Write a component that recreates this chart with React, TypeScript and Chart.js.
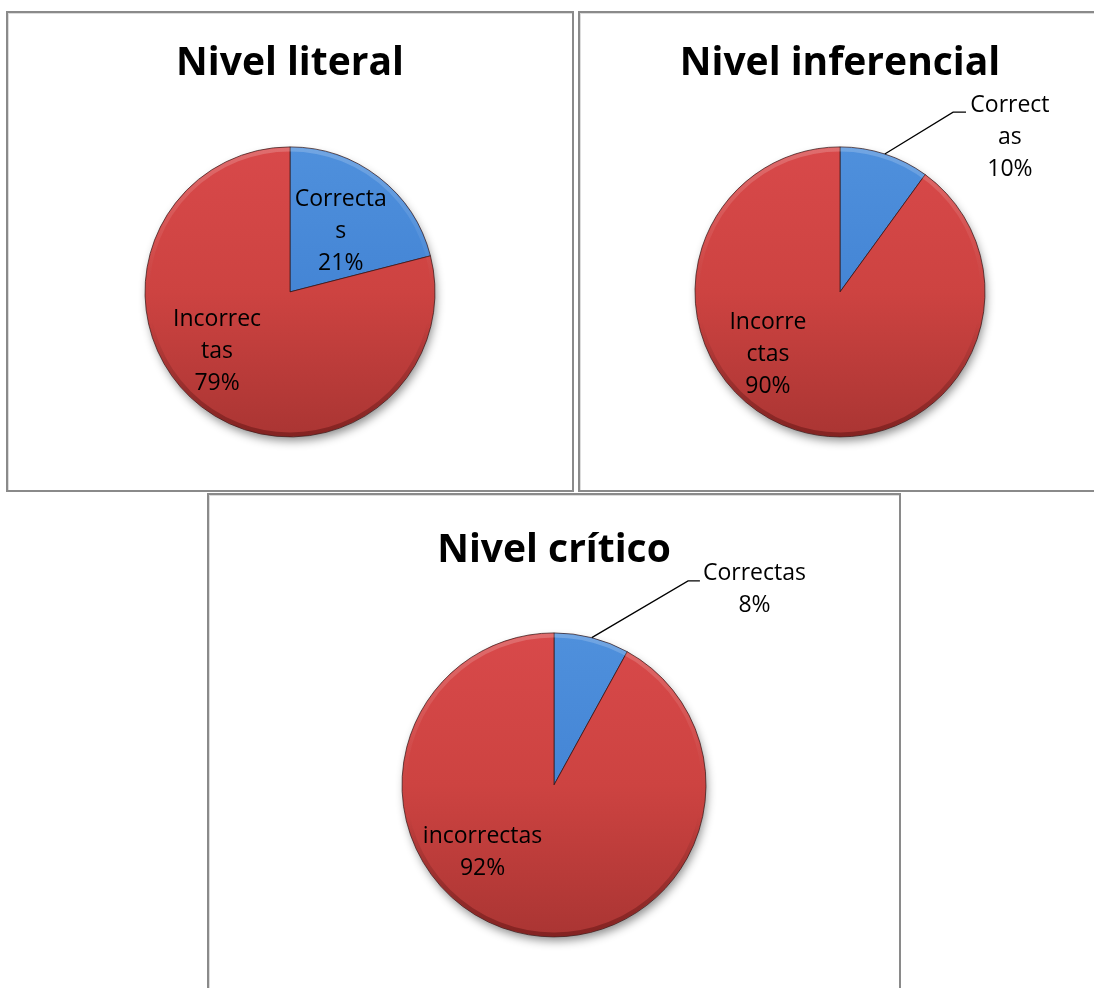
import React, { useEffect, useRef } from "react";
import { Chart, registerables } from "chart.js";

Chart.register(...registerables);

// ---- data ----
const categories = ["Correctas", "Incorrectas"];
const literalValues = [21, 79];
const inferencialValues = [10, 90];
const criticoValues = [8, 92];
const literalNames = [["Correcta", "s"], ["Incorrec", "tas"]];
const inferencialNames = [["Correct", "as"], ["Incorre", "ctas"]];
const criticoNames = [["Correctas"], ["incorrectas"]];
const titles = ["Nivel literal", "Nivel inferencial", "Nivel crítico"];

// ---- styles ----
const sliceGradients = [
  ["#4f90dc", "#4485d5", "#3572c2"],
  ["#d8494a", "#cd4341", "#aa3533"],
];

type LabelPos = { fx: number; fy: number; leader?: number[][] };
type PanelCfg = {
  title: string;
  values: number[];
  names: string[][];
  box: { left: number; top: number; width: number; height: number };
  radius: number;
  titlePad: { top: number; bottom: number };
  layoutBottom: number;
  labels: LabelPos[];
};

const panels: PanelCfg[] = [
  {
    title: titles[0],
    values: literalValues,
    names: literalNames,
    box: { left: 6, top: 11, width: 568, height: 481 },
    radius: 145,
    titlePad: { top: 27, bottom: 59 },
    layoutBottom: 53,
    labels: [
      { fx: 0.35, fy: -0.42 },
      { fx: -0.503, fy: 0.414 },
    ],
  },
  {
    title: titles[1],
    values: inferencialValues,
    names: inferencialNames,
    box: { left: 578, top: 11, width: 524, height: 481 },
    radius: 145,
    titlePad: { top: 27, bottom: 59 },
    layoutBottom: 53,
    labels: [
      { fx: 1.172, fy: -1.062, leader: [[0.78, -1.24], [0.869, -1.24]] },
      { fx: -0.497, fy: 0.434 },
    ],
  },
  {
    title: titles[2],
    values: criticoValues,
    names: criticoNames,
    box: { left: 207, top: 493, width: 694, height: 510 },
    radius: 152,
    titlePad: { top: 32, bottom: 58 },
    layoutBottom: 64,
    labels: [
      { fx: 1.319, fy: -1.283, leader: [[0.882, -1.342], [0.96, -1.342]] },
      { fx: -0.47, fy: 0.447 },
    ],
  },
];

const pieDecor = {
  id: "pieDecor",
  beforeDatasetsDraw(chart: any) {
    const arc = chart.getDatasetMeta(0).data[0];
    if (!arc) return;
    const { x, y, outerRadius } = arc.getProps(["x", "y", "outerRadius"], true);
    const ctx = chart.ctx;
    ctx.save();
    ctx.shadowColor = "rgba(0,0,0,0.45)";
    ctx.shadowBlur = 10;
    ctx.shadowOffsetX = 2;
    ctx.shadowOffsetY = 5;
    ctx.fillStyle = "#b03a38";
    ctx.beginPath();
    ctx.arc(x, y, outerRadius - 1, 0, Math.PI * 2);
    ctx.fill();
    ctx.restore();
  },
  afterDatasetsDraw(chart: any, _args: any, opts: any) {
    const meta = chart.getDatasetMeta(0);
    const ctx = chart.ctx;
    const first = meta.data[0];
    if (!first) return;
    const { x, y, outerRadius: r } = first.getProps(["x", "y", "outerRadius"], true);
    // rim bevel
    ctx.save();
    const g = ctx.createLinearGradient(0, y - r, 0, y + r);
    g.addColorStop(0, "rgba(255,255,255,0.2)");
    g.addColorStop(0.35, "rgba(255,255,255,0.05)");
    g.addColorStop(0.6, "rgba(0,0,0,0.0)");
    g.addColorStop(1, "rgba(60,0,0,0.35)");
    ctx.strokeStyle = g;
    ctx.lineWidth = 4;
    ctx.beginPath();
    ctx.arc(x, y, r - 2.5, 0, Math.PI * 2);
    ctx.stroke();
    ctx.restore();

    const labels: LabelPos[] = opts.labels || [];
    const names: string[][] = opts.names || [];
    const values: number[] = chart.data.datasets[0].data;
    const total = values.reduce((a: number, b: number) => a + b, 0);
    const lh = 32;
    ctx.save();
    ctx.font = '23px "Open Sans"';
    ctx.fillStyle = "#000";
    ctx.textAlign = "center";
    ctx.textBaseline = "middle";
    meta.data.forEach((el: any, i: number) => {
      const lp = labels[i];
      if (!lp) return;
      const p = el.getProps(["x", "y", "startAngle", "endAngle", "outerRadius"], true);
      const cx = p.x + lp.fx * p.outerRadius;
      const cy = p.y + lp.fy * p.outerRadius;
      const pct = Math.round((values[i] / total) * 100) + "%";
      const lines = [...(names[i] || []), pct];
      const y0 = cy - ((lines.length - 1) / 2) * lh;
      lines.forEach((t, k) => ctx.fillText(t, cx, y0 + k * lh));
      if (lp.leader) {
        const mid = (p.startAngle + p.endAngle) / 2;
        ctx.save();
        ctx.strokeStyle = "#000";
        ctx.lineWidth = 1.3;
        ctx.beginPath();
        ctx.moveTo(p.x + Math.cos(mid) * p.outerRadius, p.y + Math.sin(mid) * p.outerRadius);
        lp.leader.forEach(([ax, ay]) => ctx.lineTo(p.x + ax * p.outerRadius, p.y + ay * p.outerRadius));
        ctx.stroke();
        ctx.restore();
      }
    });
    ctx.restore();
  },
};

function PiePanel({ cfg }: { cfg: PanelCfg }) {
  const ref = useRef<HTMLCanvasElement | null>(null);
  const cw = cfg.box.width - 4;
  const chh = cfg.box.height - 4;
  useEffect(() => {
    if (!ref.current) return;
    const chart = new Chart(ref.current, {
      type: "pie",
      data: {
        labels: categories,
        datasets: [
          {
            data: cfg.values,
            radius: cfg.radius,
            backgroundColor: (c: any) => {
              const stops = sliceGradients[c.dataIndex % 2];
              const a = c.chart.chartArea;
              if (!a) return stops[1];
              const cy = (a.top + a.bottom) / 2;
              const g = c.chart.ctx.createLinearGradient(0, cy - cfg.radius, 0, cy + cfg.radius);
              g.addColorStop(0, stops[0]);
              g.addColorStop(0.5, stops[1]);
              g.addColorStop(1, stops[2]);
              return g;
            },
            borderColor: "rgba(50,20,20,0.7)",
            borderWidth: 1,
          } as any,
        ],
      },
      options: {
        responsive: false,
        animation: false,
        events: [],
        layout: { padding: { top: 0, left: 0, right: 0, bottom: cfg.layoutBottom } },
        plugins: {
          legend: { display: false },
          tooltip: { enabled: false },
          title: {
            display: true,
            text: cfg.title,
            color: "#000",
            font: { family: "'Open Sans'", size: 39, weight: "bold", lineHeight: 1.2 },
            padding: { top: cfg.titlePad.top, bottom: cfg.titlePad.bottom + 1 },
          },
          pieDecor: { labels: cfg.labels, names: cfg.names },
        } as any,
      },
      plugins: [pieDecor],
    });
    return () => chart.destroy();
  }, [cfg]);
  return (
    <div
      style={{
        position: "absolute",
        left: cfg.box.left,
        top: cfg.box.top,
        width: cfg.box.width,
        height: cfg.box.height,
        boxSizing: "border-box",
        border: "2px solid #8a8a8a",
        boxShadow: "inset 1px 1px 0 #dcdcdc",
        background: "#fff",
      }}
    >
      <canvas ref={ref} width={cw} height={chh} style={{ display: "block", width: cw, height: chh }} />
    </div>
  );
}

export default function App() {
  return (
    <div
      style={{
        position: "absolute",
        left: 0,
        top: 0,
        width: 1094,
        height: 988,
        overflow: "hidden",
        background: "#fff",
      }}
    >
      {panels.map((p, i) => (
        <PiePanel key={i} cfg={p} />
      ))}
    </div>
  );
}
